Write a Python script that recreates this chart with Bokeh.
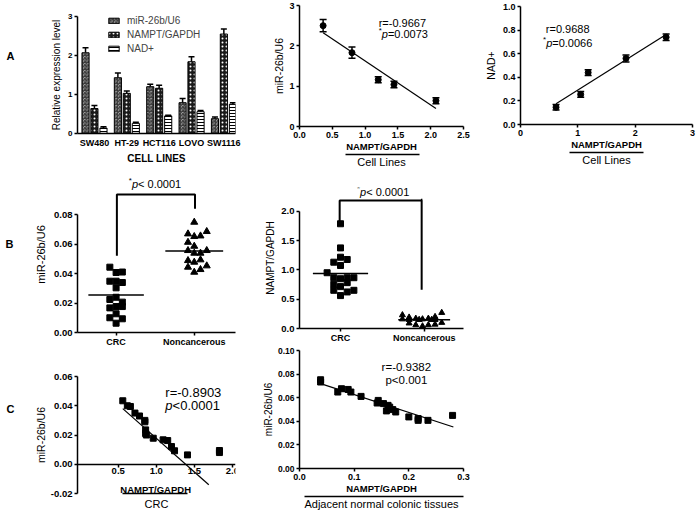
import numpy as np
from bokeh.plotting import figure
from bokeh.models import (Range1d, FixedTicker, LinearAxis, Label, Whisker, TeeHead,
                          ColumnDataSource, NumeralTickFormatter)
from bokeh.core.properties import value
from bokeh.layouts import row, column
from bokeh.embed import file_html
from bokeh.resources import INLINE

FONT = "Liberation Sans"

# ---------------- data ----------------
panel_letters = ["A", "B", "C"]
cell_lines = ["SW480", "HT-29", "HCT116", "LOVO", "SW1116"]
mir_expr = [2.07, 1.43, 1.20, 0.79, 0.38]
mir_err = [0.13, 0.12, 0.06, 0.11, 0.04]
nampt_expr = [0.64, 1.03, 1.16, 1.84, 2.55]
nampt_err = [0.08, 0.06, 0.08, 0.13, 0.13]
nad_expr = [0.14, 0.26, 0.45, 0.56, 0.75]
nad_err = [0.03, 0.03, 0.02, 0.03, 0.04]

a2_x = [0.36, 0.80, 1.20, 1.44, 2.08]
a2_y = [2.50, 1.83, 1.16, 1.04, 0.64]
a2_err = [0.15, 0.14, 0.075, 0.08, 0.075]

a3_x = [0.62, 1.05, 1.18, 1.84, 2.54]
a3_y = [0.146, 0.255, 0.44, 0.56, 0.74]
a3_err = [0.024, 0.025, 0.025, 0.03, 0.028]

groups = ["CRC", "Noncancerous"]
crc_mir = [0.0443, 0.0407, 0.0410, 0.0348, 0.0348, 0.0339, 0.0303, 0.0224, 0.0239,
           0.0206, 0.0167, 0.0176, 0.0176, 0.0127, 0.0100, 0.0093, 0.0063]
crc_mir_dx = [-0.08, 0, 0.08, -0.08, 0, 0.08, 0, -0.08, 0, 0.08, -0.08, 0, 0.08, 0,
              -0.08, 0.08, 0]
non_mir = [0.0748, 0.0669, 0.0651, 0.0655, 0.0685, 0.0612, 0.0585, 0.0556, 0.0538,
           0.0538, 0.0556, 0.0488, 0.0477, 0.0493, 0.0443, 0.0409, 0.0427, 0.0452]
non_mir_dx = [0, -0.08, 0, 0.08, 0.16, -0.08, 0, -0.08, 0, 0.08, 0.16, -0.08, 0, 0.08,
              -0.08, 0, 0.08, 0.16]
mir_means = [0.0255, 0.0552]

crc_nampt = [1.788, 1.376, 1.132, 1.217, 1.178, 1.076, 0.952, 0.867, 0.850, 0.867,
             0.867, 0.754, 0.783, 0.715, 0.652, 0.624, 0.652, 0.562]
crc_nampt_dx = [0, 0, -0.08, 0, 0.08, 0, -0.16, -0.08, 0, 0.08, 0.16, -0.08, 0.08, 0,
                -0.08, 0.08, 0.16, 0]
non_nampt = [0.23, 0.16, 0.19, 0.09, 0.15, 0.17, 0.06, 0.16, 0.04, 0.17, 0.06, 0.20,
             0.15, 0.07, 0.27, 0.10, 0.15, 0.15]
non_nampt_dx = [-0.26, -0.26, -0.18, -0.18, -0.18, -0.10, -0.10, -0.02, -0.02, 0.05,
                0.05, 0.13, 0.13, 0.13, 0.21, 0.21, -0.06, 0.09]
nampt_means = [0.94, 0.149]

b1_bracket_x = [1.01, 1.01, 2.01, 2.01]
b1_bracket_y = [0.052, 0.0936, 0.0936, 0.0839]
b2_bracket_x = [0.99, 0.99, 1.97, 1.97]
b2_bracket_y = [1.79, 2.186, 2.186, 0.66]

c1_x = [0.56, 0.62, 0.66, 0.72, 0.78, 0.85, 0.85, 0.86, 0.86, 0.87, 0.96, 1.09, 1.15,
        1.20, 1.24, 1.41, 1.83, 1.83]
c1_y = [0.0434, 0.0400, 0.0395, 0.0350, 0.0330, 0.0300, 0.0290, 0.0235, 0.0210, 0.0200,
        0.0178, 0.0167, 0.0162, 0.0121, 0.0092, 0.0064, 0.0094, 0.0080]
c1_fit_x = [0.56, 1.69]
c1_fit_y = [0.038, -0.014]

c2_x = [0.0386, 0.0386, 0.070, 0.0768, 0.089, 0.094, 0.1126, 0.144, 0.142, 0.1536,
        0.159, 0.162, 0.165, 0.1706, 0.176, 0.200, 0.217, 0.217, 0.235, 0.280]
c2_y = [0.0752, 0.0733, 0.0648, 0.0676, 0.0670, 0.0648, 0.0611, 0.0577, 0.0555, 0.0550,
        0.0488, 0.0535, 0.0520, 0.0499, 0.0479, 0.0437, 0.0423, 0.0408, 0.0408, 0.0450]
c2_fit_x = [0.0386, 0.2815]
c2_fit_y = [0.0719, 0.0352]

# ---------------- helpers ----------------
CW = {'0': .556, '1': .556, '2': .556, '3': .556, '4': .556, '5': .556, '6': .556,
      '7': .556, '8': .556, '9': .556, '.': .278, '=': .584, '<': .584, '-': .333,
      ' ': .278, 'r': .333, 'p': .556, '*': .389}


def twidth(s, size):
    return sum(CW.get(c, .556) for c in s) * size


def rich(p, x, y, parts, size, align="left"):
    sizes = [size * 0.72 if k == "sup" else size for _, k in parts]
    widths = [twidth(t, s) for (t, _), s in zip(parts, sizes)]
    off = -sum(widths) / 2 if align == "center" else 0
    for (t, k), s, w in zip(parts, sizes, widths):
        p.add_layout(Label(x=x, y=y, x_offset=off, y_offset=(size * 0.3 if k == "sup" else 0),
                           text=t, text_font=FONT, text_font_size=f"{s:.1f}px",
                           text_font_style="italic" if k == "i" else "normal",
                           text_align="left", text_baseline="middle", text_color="black"))
        off += w


def style_axis(ax, size, label="", label_size=10, bold_label=False, tick_out=3,
               lab_standoff=2, ax_standoff=2):
    ax.axis_line_color = "black"
    ax.axis_line_width = 1.5
    ax.major_tick_line_color = "black"
    ax.major_tick_line_width = 1.5
    ax.major_tick_in = 0
    ax.major_tick_out = tick_out
    ax.minor_tick_line_color = None
    ax.major_label_text_font = FONT
    ax.major_label_text_font_size = f"{size}px"
    ax.major_label_text_font_style = "bold"
    ax.major_label_text_color = "black"
    ax.major_label_standoff = lab_standoff
    ax.axis_label = label if label else None
    ax.axis_label_text_font = FONT
    ax.axis_label_text_font_size = f"{label_size}px"
    ax.axis_label_text_font_style = "bold" if bold_label else "normal"
    ax.axis_label_text_color = "black"
    ax.axis_label_standoff = ax_standoff


def sub_axis(p, bounds, text, size, standoff):
    ax = LinearAxis(bounds=bounds, ticker=FixedTicker(ticks=[]), axis_label=text)
    ax.axis_line_color = "black"
    ax.axis_line_width = 1.5
    ax.major_tick_in = 0
    ax.major_tick_out = 0
    ax.minor_tick_in = 0
    ax.minor_tick_out = 0
    ax.major_label_standoff = 0
    ax.major_label_text_font_size = "0px"
    ax.axis_label_text_font = FONT
    ax.axis_label_text_font_size = f"{size}px"
    ax.axis_label_text_font_style = "normal"
    ax.axis_label_text_color = "black"
    ax.axis_label_standoff = standoff
    p.add_layout(ax, "below")


def make_fig(w, h, l, r, t, b, xr, yr):
    p = figure(width=w, height=h, x_range=Range1d(*xr), y_range=Range1d(*yr),
               output_backend="svg", toolbar_location=None,
               min_border_left=l, min_border_right=r, min_border_top=t, min_border_bottom=b)
    p.xgrid.visible = False
    p.ygrid.visible = False
    p.outline_line_color = None
    p.background_fill_color = "white"
    p.border_fill_color = "white"
    return p


# ---------------- panel letters (narrow strip) ----------------
LW = 20
lt = figure(width=LW, height=512, x_range=Range1d(0, LW), y_range=Range1d(512, 0),
            output_backend="svg", toolbar_location=None,
            min_border_left=0, min_border_right=0, min_border_top=0, min_border_bottom=0)
lt.axis.visible = False
lt.grid.visible = False
lt.outline_line_color = None
lt.text(x=[10, 9, 10], y=[55, 264, 448], text=panel_letters, text_font=value(FONT),
        text_font_size="11px", text_font_style="bold", text_align="center",
        text_baseline="middle", text_color="black")

# ---------------- A1: bar chart ----------------
a1 = make_fig(259 - LW, 170, 62 - LW, 24, 16, 37, (0.477, 5.36), (0, 3))
style_axis(a1.xaxis[0], 9, "CELL LINES", 10, True, tick_out=0, lab_standoff=4, ax_standoff=2)
style_axis(a1.yaxis[0], 8, "Relative expression level", 10, tick_out=3, lab_standoff=2, ax_standoff=3)
a1.xaxis[0].major_tick_line_color = None
a1.xaxis[0].ticker = FixedTicker(ticks=list(range(1, len(cell_lines) + 1)))
a1.xaxis[0].major_label_overrides = {i + 1: n for i, n in enumerate(cell_lines)}
a1.yaxis[0].ticker = FixedTicker(ticks=[0, 1, 2, 3])
a1.yaxis[0].formatter = NumeralTickFormatter(format="0")

gx = np.arange(1, len(cell_lines) + 1)
series = [
    (mir_expr, mir_err, -0.275, "miR-26b/U6",
     dict(fill_color="#cfcfcf", hatch_pattern="criss_cross", hatch_color="#333333", hatch_scale=3.5, hatch_weight=1)),
    (nampt_expr, nampt_err, 0.0, "NAMPT/GAPDH",
     dict(fill_color="#1a1a1a", hatch_pattern="dot", hatch_color="white", hatch_scale=4, hatch_weight=1)),
    (nad_expr, nad_err, 0.28, "NAD+",
     dict(fill_color="white", hatch_pattern="horizontal_line", hatch_color="black", hatch_scale=3, hatch_weight=1)),
]
for vals, errs, off, lab, sty in series:
    xs = gx + off
    a1.vbar(x=xs, top=vals, bottom=0, width=0.22, line_color="black", line_width=1,
            legend_label=lab, **sty)
    src = ColumnDataSource(dict(x=xs, lo=vals, hi=np.array(vals) + np.array(errs)))
    a1.add_layout(Whisker(source=src, base="x", lower="lo", upper="hi", line_width=1.5,
                          line_color="black", lower_head=None,
                          upper_head=TeeHead(size=6, line_width=1.5, line_color="black")))
leg = a1.legend[0]
leg.location = (30, 78)
leg.border_line_color = None
leg.background_fill_alpha = 0
leg.padding = 0
leg.margin = 0
leg.spacing = 0
leg.glyph_width = 13
leg.glyph_height = 7
leg.label_height = 14
leg.label_standoff = 7
leg.label_text_font = FONT
leg.label_text_font_size = "10px"

# ---------------- A2 ----------------
a2 = make_fig(222, 170, 28, 18, 5, 44, (0, 2.5), (0, 3))
style_axis(a2.xaxis[0], 9, "NAMPT/GAPDH", 9.5, True, lab_standoff=2, ax_standoff=0)
style_axis(a2.yaxis[0], 9, "miR-26b/U6", 10.5, lab_standoff=2, ax_standoff=1)
a2.xaxis[0].ticker = FixedTicker(ticks=[0, 0.5, 1.0, 1.5, 2.0, 2.5])
a2.xaxis[0].formatter = NumeralTickFormatter(format="0.0")
a2.yaxis[0].ticker = FixedTicker(ticks=[0, 1, 2, 3])
a2.yaxis[0].formatter = NumeralTickFormatter(format="0")
sub_axis(a2, (0.706, 1.832), "Cell Lines", 11, 1)
k, c = np.polyfit(a2_x, a2_y, 1)
fx = np.array([min(a2_x), max(a2_x)])
a2.line(fx, k * fx + c, line_color="black", line_width=1.2)
src = ColumnDataSource(dict(x=a2_x, lo=np.array(a2_y) - np.array(a2_err), hi=np.array(a2_y) + np.array(a2_err)))
a2.add_layout(Whisker(source=src, base="x", lower="lo", upper="hi", line_width=1.5, line_color="black",
                      lower_head=TeeHead(size=7, line_width=1.5, line_color="black"),
                      upper_head=TeeHead(size=7, line_width=1.5, line_color="black")))
a2.scatter(a2_x, a2_y, marker="circle", size=6, color="black")
rich(a2, 1.207, 2.575, [("r=-0.9667", "n")], 11)
rich(a2, 1.207, 2.29, [("*", "sup"), ("p", "i"), ("=0.0073", "n")], 11)

# ---------------- A3 ----------------
a3 = make_fig(217, 170, 36, 6, 6, 46, (0, 3), (0, 1.0))
style_axis(a3.xaxis[0], 9, "NAMPT/GAPDH", 9.5, True, lab_standoff=2, ax_standoff=0)
style_axis(a3.yaxis[0], 9, "NAD+", 10.5, lab_standoff=2, ax_standoff=3)
a3.xaxis[0].ticker = FixedTicker(ticks=[0, 1, 2, 3])
a3.xaxis[0].formatter = NumeralTickFormatter(format="0")
a3.yaxis[0].ticker = FixedTicker(ticks=[0, 0.2, 0.4, 0.6, 0.8, 1.0])
a3.yaxis[0].formatter = NumeralTickFormatter(format="0.0")
sub_axis(a3, (0.85, 2.14), "Cell Lines", 11, 1)
k, c = np.polyfit(a3_x, a3_y, 1)
fx = np.array([min(a3_x), max(a3_x)])
a3.line(fx, k * fx + c, line_color="black", line_width=1.2)
src = ColumnDataSource(dict(x=a3_x, lo=np.array(a3_y) - np.array(a3_err), hi=np.array(a3_y) + np.array(a3_err)))
a3.add_layout(Whisker(source=src, base="x", lower="lo", upper="hi", line_width=1.5, line_color="black",
                      lower_head=TeeHead(size=7, line_width=1.5, line_color="black"),
                      upper_head=TeeHead(size=7, line_width=1.5, line_color="black")))
a3.scatter(a3_x, a3_y, marker="circle", size=6, color="black")
rich(a3, 0.823, 0.806, [("r=0.9688", "n")], 11, "center")
rich(a3, 0.823, 0.692, [("*", "sup"), ("p", "i"), ("=0.0066", "n")], 11, "center")

# ---------------- B1 ----------------
b1 = make_fig(259 - LW, 180, 77 - LW, 2, 6, 18, (0.506, 2.528), (0, 0.1058))
style_axis(b1.xaxis[0], 9, "", lab_standoff=1)
style_axis(b1.yaxis[0], 9.5, "miR-26b/U6", 11, lab_standoff=2, ax_standoff=4)
b1.xaxis[0].ticker = FixedTicker(ticks=[1, 2])
b1.xaxis[0].major_label_overrides = {1: groups[0], 2: groups[1]}
b1.yaxis[0].ticker = FixedTicker(ticks=[0, 0.02, 0.04, 0.06, 0.08])
b1.yaxis[0].formatter = NumeralTickFormatter(format="0.00")
b1.yaxis[0].bounds = (0, 0.08)
b1.scatter(1 + np.array(crc_mir_dx), crc_mir, marker="square", size=6, color="black")
b1.scatter(2 + np.array(non_mir_dx), non_mir, marker="triangle", size=7, color="black")
b1.segment(x0=[1 - 0.355, 2 - 0.37], x1=[1 + 0.355, 2 + 0.37], y0=mir_means, y1=mir_means,
           line_color="black", line_width=1.5)
b1.line(b1_bracket_x, b1_bracket_y, line_color="black", line_width=2)
rich(b1, 1.498, 0.101, [("*", "sup"), ("p", "i"), ("< 0.0001", "n")], 11, "center")

# ---------------- B2 ----------------
b2 = make_fig(222, 175, 33, 13, 17, 16, (0.51, 2.47), (0, 2.407))
style_axis(b2.xaxis[0], 9, "", lab_standoff=1)
style_axis(b2.yaxis[0], 9.5, "NAMPT/GAPDH", 10, lab_standoff=2, ax_standoff=2)
b2.xaxis[0].ticker = FixedTicker(ticks=[1, 2])
b2.xaxis[0].major_label_overrides = {1: groups[0], 2: groups[1]}
b2.yaxis[0].ticker = FixedTicker(ticks=[0, 0.5, 1.0, 1.5, 2.0])
b2.yaxis[0].formatter = NumeralTickFormatter(format="0.0")
b2.yaxis[0].bounds = (0, 2.0)
b2.scatter(1 + np.array(crc_nampt_dx), crc_nampt, marker="square", size=6, color="black")
b2.scatter(2 + np.array(non_nampt_dx), non_nampt, marker="triangle", size=6, color="black")
b2.segment(x0=[1 - 0.33, 2 - 0.31], x1=[1 + 0.33, 2 + 0.31], y0=nampt_means, y1=nampt_means,
           line_color="black", line_width=1.5)
b2.line(b2_bracket_x, b2_bracket_y, line_color="black", line_width=2)
b2.line([b2_bracket_x[-1]] * 2, [b2_bracket_y[1], b2_bracket_y[1] + 0.03], line_color="black", line_width=1.5)
rich(b2, 1.51, 2.33, [("*", "sup"), ("p", "i"), ("< 0.0001", "n")], 11, "center")

# ---------------- C1 ----------------
c1 = make_fig(259 - LW, 162, 77 - LW, 2, 26, 19, (-0.035, 2.041), (-0.02, 0.06))
style_axis(c1.xaxis[0], 9.5, "", lab_standoff=1)
style_axis(c1.yaxis[0], 9.5, "miR-26b/U6", 10.5, lab_standoff=2, ax_standoff=1)
c1.xaxis[0].fixed_location = 0
c1.xaxis[0].ticker = FixedTicker(ticks=[0.5, 1.0, 1.5, 2.0])
c1.xaxis[0].formatter = NumeralTickFormatter(format="0.0")
c1.yaxis[0].ticker = FixedTicker(ticks=[-0.02, 0, 0.02, 0.04, 0.06])
c1.yaxis[0].formatter = NumeralTickFormatter(format="0.00")
sub_axis(c1, (0.554, 1.407), "CRC", 11, 4)
c1.line(c1_fit_x, c1_fit_y, line_color="black", line_width=1.2)
c1.scatter(c1_x, c1_y, marker="square", size=6, color="black")
c1.add_layout(Label(x=0.992, y=-0.0173, text="NAMPT/GAPDH", text_font=FONT, text_font_size="9.5px",
                    text_font_style="bold", text_align="center", text_baseline="middle",
                    text_color="black"))
rich(c1, 1.119, 0.0491, [("r=-0.8903", "n")], 13)
rich(c1, 1.119, 0.0402, [("p", "i"), ("<0.0001", "n")], 13)

# ---------------- C2 ----------------
c2 = make_fig(222, 167, 33, 14, 5, 44, (0, 0.3), (0, 0.10))
style_axis(c2.xaxis[0], 9, "NAMPT/GAPDH", 9.5, True, lab_standoff=2, ax_standoff=0)
style_axis(c2.yaxis[0], 8.5, "miR-26b/U6", 10, lab_standoff=2, ax_standoff=1)
c2.xaxis[0].ticker = FixedTicker(ticks=[0, 0.1, 0.2, 0.3])
c2.xaxis[0].formatter = NumeralTickFormatter(format="0.0")
c2.yaxis[0].ticker = FixedTicker(ticks=[0, 0.02, 0.04, 0.06, 0.08, 0.10])
c2.yaxis[0].formatter = NumeralTickFormatter(format="0.00")
sub_axis(c2, (0.01, 0.30), "Adjacent normal colonic tissues", 11, 1)
c2.line(c2_fit_x, c2_fit_y, line_color="black", line_width=1.2)
c2.scatter(c2_x, c2_y, marker="square", size=6, color="black")
rich(c2, 0.1955, 0.086, [("r=-0.9382", "n")], 11.5, "center")
rich(c2, 0.1955, 0.0747, [("p<0.001", "n")], 11.5, "center")

layout = row(lt, column(a1, b1, c1), column(a2, b2, c2), a3)
open("out.html", "w").write(file_html(layout, INLINE))
